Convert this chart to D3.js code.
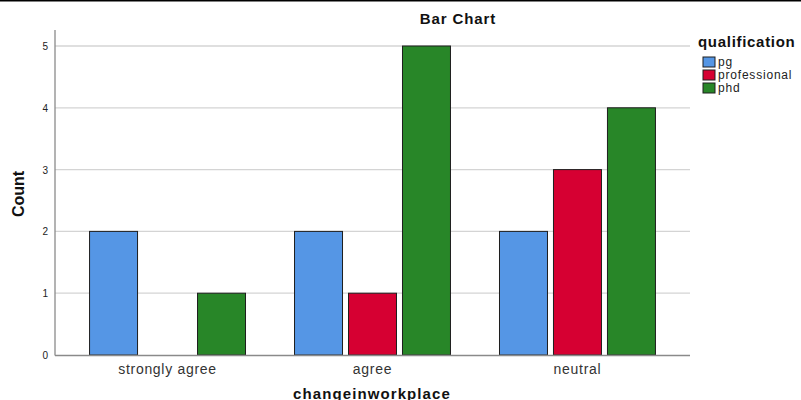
<!DOCTYPE html>
<html>
<head>
<meta charset="utf-8">
<script src="https://cdn.jsdelivr.net/npm/d3@7"></script>
<style>
    body { margin: 0; background: #fff; }
    text { font-family: Arial, "Liberation Sans", sans-serif; }
</style>
</head>
<body>
<div id="chart"></div>
<script>
// categories and series
const categories = ["strongly agree", "agree", "neutral"];
const groups = ["pg", "professional", "phd"];
const pgCounts = [2, 2, 2];
const professionalCounts = [0, 1, 3];
const phdCounts = [1, 5, 4];
const yTicks = [0, 1, 2, 3, 4, 5];

const colors = { pg: "#5596e5", professional: "#d60032", phd: "#288628" };

const width = 801, height = 400;
const margin = { top: 30, left: 55, right: 111, bottom: 45 };

const svg = d3.select("#chart").append("svg")
    .attr("width", width)
    .attr("height", height);

// top border line
svg.append("line")
    .attr("x1", 0).attr("x2", width)
    .attr("y1", 0.5).attr("y2", 0.5)
    .attr("stroke", "#000").attr("stroke-width", 2);

const x0 = d3.scaleBand()
    .domain(categories)
    .range([margin.left, width - margin.right])
    .paddingInner(0)
    .paddingOuter(0.049);

const x1 = d3.scaleBand()
    .domain(groups)
    .range([0, x0.bandwidth()])
    .paddingInner(0.111)
    .paddingOuter(0.454);

const y = d3.scaleLinear()
    .domain([0, 5])
    .range([355, 46]);

// gridlines
svg.append("g")
    .selectAll("line")
    .data(yTicks.slice(1))
    .enter()
    .append("line")
    .attr("x1", margin.left)
    .attr("x2", width - margin.right)
    .attr("y1", d => y(d))
    .attr("y2", d => y(d))
    .attr("stroke", "#d4d4d4")
    .attr("stroke-width", 1.3);

// y tick labels
svg.append("g")
    .selectAll("text")
    .data(yTicks)
    .enter()
    .append("text")
    .attr("x", 48)
    .attr("y", d => y(d) + 4)
    .attr("text-anchor", "end")
    .attr("font-size", "10px")
    .attr("fill", "#222")
    .text(d => d);

// bars
const data = categories.map((c, i) => ({
    category: c,
    values: [
        { key: "pg", value: pgCounts[i] },
        { key: "professional", value: professionalCounts[i] },
        { key: "phd", value: phdCounts[i] },
    ],
}));

svg.append("g")
    .selectAll("g")
    .data(data)
    .enter()
    .append("g")
    .attr("transform", d => `translate(${x0(d.category)},0)`)
    .selectAll("rect")
    .data(d => d.values.filter(v => v.value > 0))
    .enter()
    .append("rect")
    .attr("x", d => x1(d.key))
    .attr("width", x1.bandwidth())
    .attr("y", d => y(d.value))
    .attr("height", d => y(0) - y(d.value))
    .attr("fill", d => colors[d.key])
    .attr("stroke", "#1e1e1e")
    .attr("stroke-width", 1);

// axes lines
svg.append("line")
    .attr("x1", margin.left).attr("x2", margin.left)
    .attr("y1", 30).attr("y2", 355.5)
    .attr("stroke", "#8a8a8a").attr("stroke-width", 1.3);
svg.append("line")
    .attr("x1", margin.left).attr("x2", width - margin.right)
    .attr("y1", 355.5).attr("y2", 355.5)
    .attr("stroke", "#8a8a8a").attr("stroke-width", 1.3);

// x tick labels
svg.append("g")
    .selectAll("text")
    .data(categories)
    .enter()
    .append("text")
    .attr("x", d => x0(d) + x0.bandwidth() / 2)
    .attr("y", 374)
    .attr("text-anchor", "middle")
    .attr("font-size", "14px")
    .attr("letter-spacing", "0.7px")
    .attr("fill", "#333")
    .text(d => d);

// titles
svg.append("text")
    .attr("x", 458).attr("y", 24)
    .attr("text-anchor", "middle")
    .attr("font-size", "15px")
    .attr("font-weight", "bold")
    .attr("letter-spacing", "0.9px")
    .attr("fill", "#111")
    .text("Bar Chart");

svg.append("text")
    .attr("x", 372).attr("y", 399)
    .attr("text-anchor", "middle")
    .attr("font-size", "15px")
    .attr("font-weight", "bold")
    .attr("letter-spacing", "1.1px")
    .attr("fill", "#111")
    .text("changeinworkplace");

svg.append("text")
    .attr("transform", "translate(24,194) rotate(-90)")
    .attr("text-anchor", "middle")
    .attr("font-family", "'Liberation Sans Narrow', 'Arial Narrow', sans-serif")
    .attr("font-size", "16px")
    .attr("font-weight", "bold")
    .attr("fill", "#111")
    .text("Count");

// legend
const legend = svg.append("g").attr("transform", "translate(698,0)");
legend.append("text")
    .attr("x", 0).attr("y", 47)
    .attr("font-size", "15px")
    .attr("font-weight", "bold")
    .attr("letter-spacing", "0.7px")
    .attr("fill", "#111")
    .text("qualification");

legend.selectAll("rect")
    .data(groups)
    .enter()
    .append("rect")
    .attr("x", 5)
    .attr("y", (d, i) => 57 + i * 13)
    .attr("width", 12)
    .attr("height", 10)
    .attr("fill", d => colors[d])
    .attr("stroke", "#1e1e1e");

legend.selectAll(".lbl")
    .data(groups)
    .enter()
    .append("text")
    .attr("class", "lbl")
    .attr("x", 20)
    .attr("y", (d, i) => 66 + i * 13)
    .attr("font-size", "12px")
    .attr("letter-spacing", "0.8px")
    .attr("fill", "#222")
    .text(d => d);
</script>
</body>
</html>
